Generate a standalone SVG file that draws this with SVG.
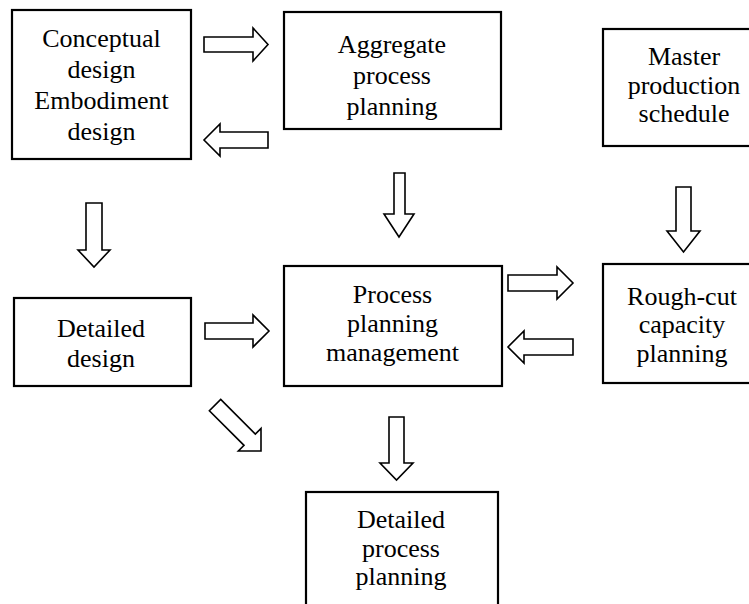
<svg xmlns="http://www.w3.org/2000/svg" width="749" height="604" viewBox="0 0 749 604">
<style>
.box{fill:#fff;stroke:#000;stroke-width:2.2}
.lbl{font-family:"Liberation Serif","Times New Roman",serif;font-size:26px;fill:#000;text-anchor:middle}
.arr{fill:#fff;stroke:#000;stroke-width:1.6;stroke-linejoin:miter}
</style>
<rect width="749" height="604" fill="#fff"/>
<g id="connectors">
<path class="arr" d="M204,37 H253 V28 L268,44.5 L253,61 V52 H204 Z"/>
<path class="arr" d="M268,132 H220 V124 L204,140 L220,156 V148 H268 Z"/>
<path class="arr" d="M86,203 V250 H78 L94,267 L110,250 H102 V203 Z"/>
<path class="arr" d="M394,173 V214 H384 L399,237 L414,214 H405 V173 Z"/>
<path class="arr" d="M676,187 V231 H667 L683.5,252 L700,231 H691 V187 Z"/>
<path class="arr" d="M205,323 H253 V315 L269,331 L253,347 V339 H205 Z"/>
<path class="arr" d="M508,275 H557 V267 L573,283 L557,299 V291 H508 Z"/>
<path class="arr" d="M573,339 H524 V331 L508,347 L524,363 V355 H573 Z"/>
<path class="arr" transform="translate(261,451) rotate(45)" d="M-65,-8 H-16 V-16 L0,0 L-16,16 V8 H-65 Z"/>
<path class="arr" d="M389,417 V463 H380 L396.5,480 L413,463 H404 V417 Z"/>
</g>
<g id="conceptual">
<rect class="box" x="12" y="10" width="179" height="149"/>
<text class="lbl" x="101.5" y="47">Conceptual</text>
<text class="lbl" x="101.5" y="78">design</text>
<text class="lbl" x="101.5" y="109">Embodiment</text>
<text class="lbl" x="101.5" y="140">design</text>
</g>
<g id="aggregate">
<rect class="box" x="284" y="12" width="217" height="117"/>
<text class="lbl" x="392" y="53">Aggregate</text>
<text class="lbl" x="392" y="84">process</text>
<text class="lbl" x="392" y="115">planning</text>
</g>
<g id="master">
<rect class="box" x="603" y="29" width="160" height="117"/>
<text class="lbl" x="684" y="65">Master</text>
<text class="lbl" x="684" y="94">production</text>
<text class="lbl" x="684" y="122">schedule</text>
</g>
<g id="detailed-design">
<rect class="box" x="14" y="298" width="177" height="88"/>
<text class="lbl" x="101" y="337">Detailed</text>
<text class="lbl" x="101" y="367">design</text>
</g>
<g id="process-management">
<rect class="box" x="284" y="266" width="218" height="120"/>
<text class="lbl" x="392.5" y="303">Process</text>
<text class="lbl" x="392.5" y="332">planning</text>
<text class="lbl" x="392.5" y="361">management</text>
</g>
<g id="rough-cut">
<rect class="box" x="603" y="264" width="160" height="119"/>
<text class="lbl" x="682" y="305">Rough-cut</text>
<text class="lbl" x="682" y="333">capacity</text>
<text class="lbl" x="682" y="362">planning</text>
</g>
<g id="detailed-process">
<rect class="box" x="306" y="492" width="192" height="130"/>
<text class="lbl" x="401" y="528">Detailed</text>
<text class="lbl" x="401" y="557">process</text>
<text class="lbl" x="401" y="585">planning</text>
</g>
</svg>
